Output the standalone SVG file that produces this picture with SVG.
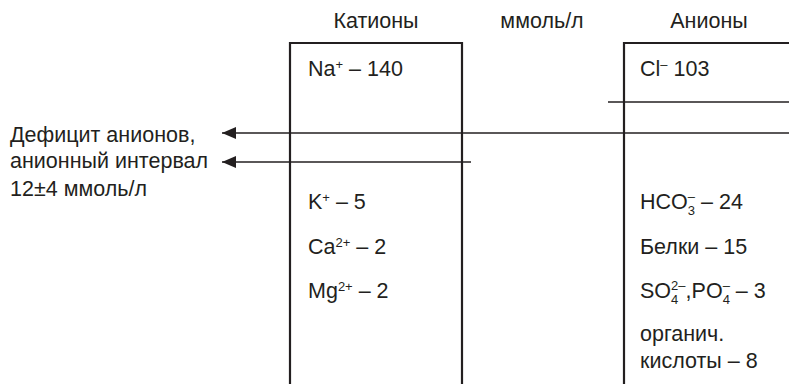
<svg xmlns="http://www.w3.org/2000/svg" width="789" height="384" viewBox="0 0 789 384">
<defs>
<style>
text{font-family:"Liberation Sans",Arial,sans-serif;font-size:21.5px;fill:#231f20}
.sm{font-size:13px}
.box{fill:none;stroke:#231f20;stroke-width:2.2}
.ln{stroke:#231f20;stroke-width:1.3;fill:none}
</style>
<marker id="ah" markerUnits="userSpaceOnUse" markerWidth="16" markerHeight="14" refX="1" refY="7" orient="auto">
<path d="M1,7 L15,1 L15,13 Z" fill="#231f20"/>
</marker>
</defs>
<g id="headers">
<text x="376" y="28" text-anchor="middle">Катионы</text>
<text x="542" y="28" text-anchor="middle">ммоль/л</text>
<text x="709" y="28" text-anchor="middle">Анионы</text>
</g>
<g id="cations">
<path class="box" d="M290,385 V43 H462 V385"/>
<text x="308" y="76">Na<tspan class="sm" dy="-7">+</tspan><tspan dy="7"> – 140</tspan></text>
<text x="308" y="209">K<tspan class="sm" dy="-7">+</tspan><tspan dy="7"> – 5</tspan></text>
<text x="308" y="254">Ca<tspan class="sm" dy="-7">2+</tspan><tspan dy="7"> – 2</tspan></text>
<text x="308" y="298">Mg<tspan class="sm" dy="-7">2+</tspan><tspan dy="7"> – 2</tspan></text>
</g>
<g id="anions">
<path class="box" d="M624,385 V43 H790"/>
<text x="640" y="76">Cl<tspan class="sm" dy="-7">–</tspan><tspan dy="7"> 103</tspan></text>
<text x="640" y="209">HCO<tspan class="sm" dy="6">3</tspan><tspan class="sm" dx="-7.2" dy="-14">–</tspan><tspan dy="8"> – 24</tspan></text>
<text x="640" y="254">Белки – 15</text>
<text x="640" y="298">SO<tspan class="sm" dy="6">4</tspan><tspan class="sm" dx="-7.2" dy="-14">2–</tspan><tspan dy="8">,PO</tspan><tspan class="sm" dy="6">4</tspan><tspan class="sm" dx="-7.2" dy="-14">–</tspan><tspan dy="8"> – 3</tspan></text>
<text x="640" y="341">органич.</text>
<text x="640" y="368">кислоты – 8</text>
</g>
<g id="gap-label">
<text x="10" y="142">Дефицит анионов,</text>
<text x="10" y="168">анионный интервал</text>
<text x="10" y="196">12±4 ммоль/л</text>
</g>
<g id="connectors">
<line class="ln" x1="222" y1="133" x2="789" y2="133" marker-start="url(#ah)"/>
<line class="ln" x1="222" y1="162" x2="471" y2="162" marker-start="url(#ah)"/>
<line class="ln" x1="608" y1="102" x2="789" y2="102"/>
</g>
</svg>
